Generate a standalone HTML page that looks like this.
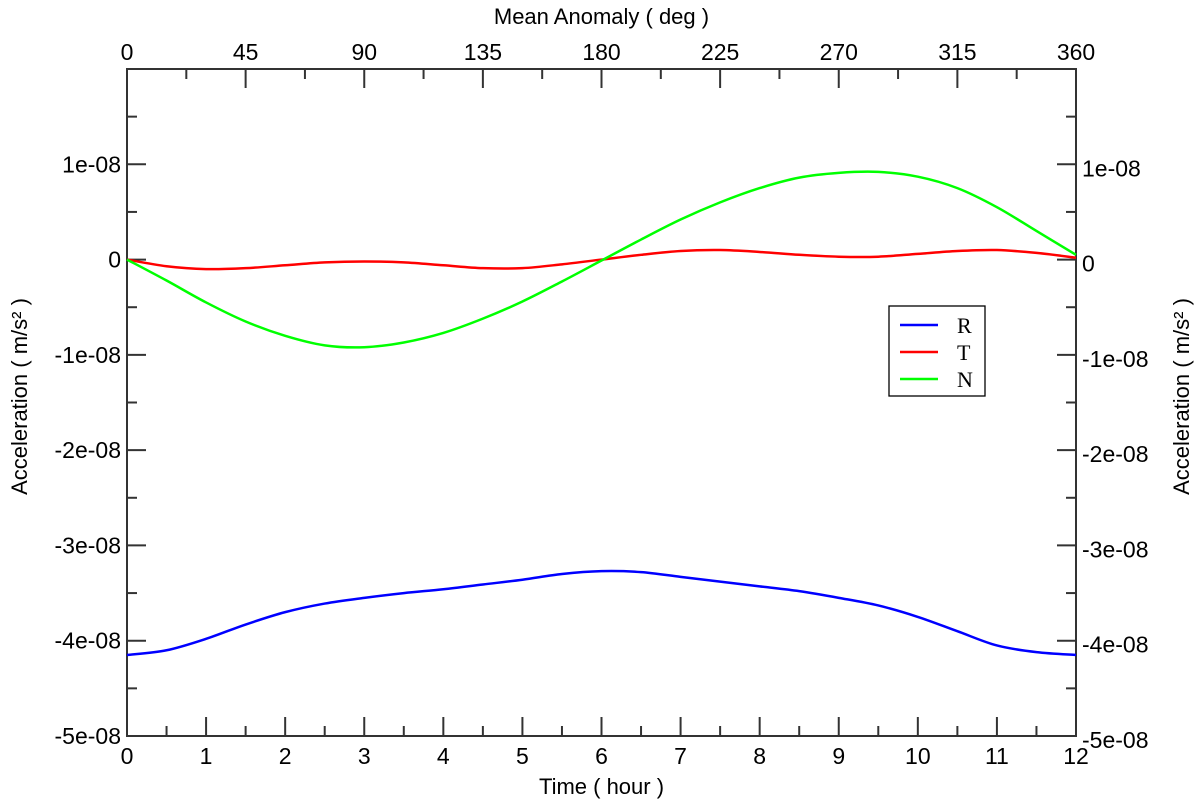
<!DOCTYPE html>
<html><head><meta charset="utf-8"><style>
html,body{margin:0;padding:0;background:#fff}
svg{display:block;font-family:"Liberation Sans",sans-serif}
</style></head><body>
<svg id="chart" width="1200" height="804" viewBox="0 0 1200 804" xmlns="http://www.w3.org/2000/svg">
<g id="axes"></g>
<g id="series"></g>
<g>
<rect x="889" y="306" width="96" height="90" fill="#fff" stroke="#000" stroke-width="1.3"/>
<line x1="900" y1="325" x2="938" y2="325" stroke="#0000ff" stroke-width="2.5"/>
<text x="957" y="333" font-family="Liberation Serif,serif" font-size="22">R</text>
<line x1="900" y1="352" x2="938" y2="352" stroke="#ff0000" stroke-width="2.5"/>
<text x="957" y="360" font-family="Liberation Serif,serif" font-size="22">T</text>
<line x1="900" y1="379" x2="938" y2="379" stroke="#00ff00" stroke-width="2.5"/>
<text x="957" y="387" font-family="Liberation Serif,serif" font-size="22">N</text>
</g>
</svg>
<script>
const hours = [0,0.5,1,1.5,2,2.5,3,3.5,4,4.5,5,5.5,6,6.5,7,7.5,8,8.5,9,9.5,10,10.5,11,11.5,12];
const seriesR = [-4.15,-4.1,-3.98,-3.83,-3.7,-3.61,-3.55,-3.5,-3.46,-3.41,-3.36,-3.3,-3.27,-3.28,-3.33,-3.38,-3.43,-3.48,-3.55,-3.63,-3.75,-3.9,-4.05,-4.12,-4.15];
const seriesT = [0,-0.07,-0.1,-0.09,-0.06,-0.03,-0.02,-0.03,-0.06,-0.09,-0.09,-0.05,0,0.05,0.09,0.1,0.08,0.05,0.03,0.03,0.06,0.09,0.1,0.07,0.02];
const seriesN = [0,-0.22,-0.45,-0.65,-0.8,-0.9,-0.92,-0.87,-0.77,-0.62,-0.44,-0.23,-0.01,0.21,0.42,0.6,0.75,0.86,0.91,0.92,0.87,0.75,0.55,0.3,0.05];
const yTickVals = [1,0,-1,-2,-3,-4,-5];
const yTickLabels = ["1e-08","0","-1e-08","-2e-08","-3e-08","-4e-08","-5e-08"];
const xTickVals = [0,1,2,3,4,5,6,7,8,9,10,11,12];
const topTickVals = [0,45,90,135,180,225,270,315,360];

const L=127,R=1076,T=69,B=736, ymin=-5, ymax=2;
const xs=h=>L+(h/12)*(R-L);
const xd=d=>L+(d/360)*(R-L);
const ys=v=>B-(v-ymin)/(ymax-ymin)*(B-T);
const NS="http://www.w3.org/2000/svg";
const ax=document.getElementById('axes'), se=document.getElementById('series');
function mk(tag,attrs,parent,txt){const e=document.createElementNS(NS,tag);for(const k in attrs)e.setAttribute(k,attrs[k]);if(txt!==undefined)e.textContent=txt;parent.appendChild(e);return e;}
let fr=mk('rect',{x:L,y:T,width:R-L,height:B-T,fill:'none',stroke:'#333','stroke-width':2},ax);


function tick(x1,y1,x2,y2){const t=mk('line',{x1,y1,x2,y2,stroke:'#333','stroke-width':2},ax);

}
xTickVals.forEach(h=>{const x=xs(h);tick(x,B,x,B-19);
const t=mk('text',{x:x,y:B+28,'text-anchor':'middle','font-size':23},ax,String(h));


if(h<12){const xm=xs(h+0.5);tick(xm,B,xm,B-10);}});
topTickVals.forEach((d,i)=>{const x=xd(d);tick(x,T,x,T+19);
const t=mk('text',{x:x,y:T-9,'text-anchor':'middle','font-size':23},ax,String(d));


if(d<360){const xm=xd(d+22.5);tick(xm,T,xm,T+10);}});
yTickVals.forEach((v,i)=>{const y=ys(v);tick(L,y,L+19,y);tick(R,y,R-19,y);
const a=mk('text',{x:L-6,y:y+8,'text-anchor':'end','font-size':23},ax,yTickLabels[i]);


const b=mk('text',{x:R+6,y:y+12,'text-anchor':'start','font-size':23},ax,yTickLabels[i]);

});
[-4.5,-3.5,-2.5,-1.5,-0.5,0.5,1.5].forEach(v=>{const y=ys(v);tick(L,y,L+10,y);tick(R,y,R-10,y);});
let t1=mk('text',{x:(L+R)/2,y:794,'text-anchor':'middle','font-size':22},ax,'Time ( hour )');


let t2=mk('text',{x:(L+R)/2,y:24,'text-anchor':'middle','font-size':22},ax,'Mean Anomaly ( deg )');


let t3=mk('text',{x:0,y:0,'text-anchor':'middle','font-size':22,transform:`translate(27,${(T+B)/2-6}) rotate(-90)`},ax,'Acceleration ( m/s² )');


let t4=mk('text',{x:0,y:0,'text-anchor':'middle','font-size':22,transform:`translate(1189,${(T+B)/2-6}) rotate(-90)`},ax,'Acceleration ( m/s² )');


function path(vals){const p=hours.map((h,i)=>[xs(h),ys(vals[i])]);let d=`M${p[0][0]},${p[0][1]}`;
for(let i=0;i<p.length-1;i++){const p0=p[Math.max(0,i-1)],p1=p[i],p2=p[i+1],p3=p[Math.min(p.length-1,i+2)];
d+=` C${p1[0]+(p2[0]-p0[0])/6},${p1[1]+(p2[1]-p0[1])/6} ${p2[0]-(p3[0]-p1[0])/6},${p2[1]-(p3[1]-p1[1])/6} ${p2[0]},${p2[1]}`;}return d;}
[[seriesR,'#0000ff','series-r'],[seriesT,'#ff0000','series-t'],[seriesN,'#00ff00','series-n']].forEach(([v,c,n])=>{
const e=mk('path',{d:path(v),fill:'none',stroke:c,'stroke-width':2.5},se);

});
</script>
</body></html>
